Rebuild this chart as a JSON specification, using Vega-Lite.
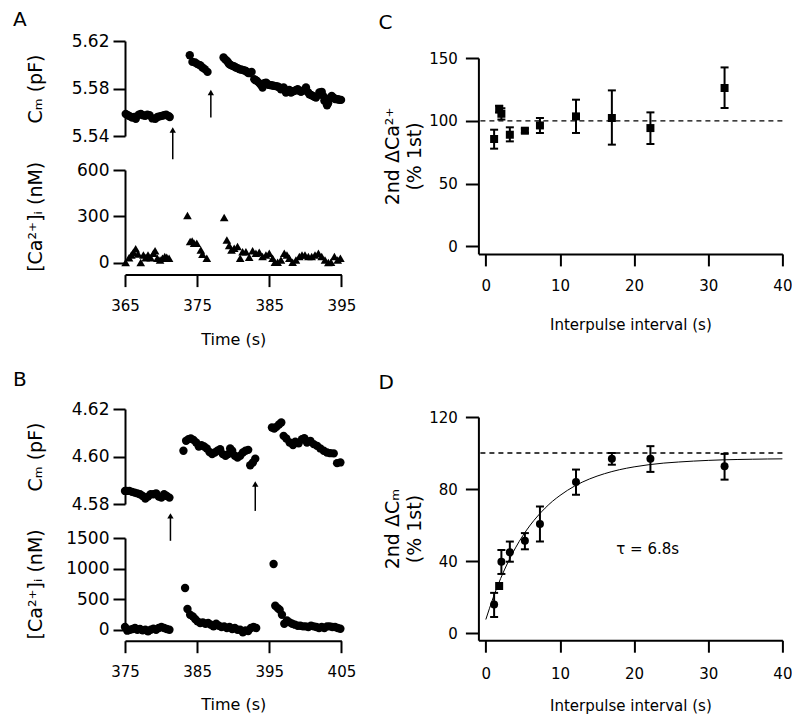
{
  "$schema": "https://vega.github.io/schema/vega-lite/v6.json",
  "background": "white",
  "autosize": {"type": "pad"},
  "padding": {"left": 13, "top": 10, "right": 0, "bottom": 0},
  "bounds": "flush",
  "spacing": 353.4,
  "hconcat": [
    {
      "bounds": "flush",
      "spacing": 34,
      "vconcat": [
        {
          "width": 216.4, "height": 95,
          "title": {"text": "A", "dx": -112, "offset": 2},
          "encoding": {
            "x": {"field": "t", "type": "quantitative", "scale": {"domain": [365, 395], "nice": false, "zero": false}, "axis": null},
            "y": {"field": "v", "type": "quantitative", "scale": {"domain": [5.54, 5.62], "nice": false, "zero": false},
                  "axis": {"values": [5.54, 5.58, 5.62], "format": ".2f", "title": "Cₘ (pF)", "titleX": -84, "titleBaseline": "alphabetic", "titleAngle": -90, "labelPadding": 4, "labelFontSize": 17, "titleFontSize": 19}}
          },
          "layer": [
            {
              "data": {"values": [
                {"t": 365.1, "v": 5.5585}, {"t": 365.4, "v": 5.5575}, {"t": 365.7, "v": 5.5565}, {"t": 366.0, "v": 5.5555},
                {"t": 366.3, "v": 5.556}, {"t": 366.5, "v": 5.5545}, {"t": 366.9, "v": 5.558}, {"t": 367.2, "v": 5.5585},
                {"t": 367.5, "v": 5.5575}, {"t": 367.8, "v": 5.557}, {"t": 368.1, "v": 5.558}, {"t": 368.4, "v": 5.5575},
                {"t": 368.8, "v": 5.5548}, {"t": 369.2, "v": 5.5545}, {"t": 369.5, "v": 5.556}, {"t": 369.8, "v": 5.5565},
                {"t": 370.1, "v": 5.557}, {"t": 370.4, "v": 5.5575}, {"t": 370.7, "v": 5.558}, {"t": 371.0, "v": 5.557},
                {"t": 371.2, "v": 5.556},
                {"t": 373.98, "v": 5.608}, {"t": 374.35, "v": 5.6024}, {"t": 374.72, "v": 5.6019}, {"t": 375.05, "v": 5.6005},
                {"t": 375.42, "v": 5.5996}, {"t": 375.74, "v": 5.5977}, {"t": 376.06, "v": 5.5963}, {"t": 376.44, "v": 5.594},
                {"t": 378.66, "v": 5.6061}, {"t": 378.9, "v": 5.6045}, {"t": 379.12, "v": 5.6033}, {"t": 379.3, "v": 5.602},
                {"t": 379.44, "v": 5.6005}, {"t": 379.65, "v": 5.5998}, {"t": 379.91, "v": 5.5991}, {"t": 380.15, "v": 5.5985},
                {"t": 380.37, "v": 5.5977}, {"t": 380.6, "v": 5.5972}, {"t": 380.83, "v": 5.5963}, {"t": 381.05, "v": 5.596},
                {"t": 381.3, "v": 5.5957}, {"t": 381.55, "v": 5.5952}, {"t": 381.76, "v": 5.5948}, {"t": 382.0, "v": 5.5935},
                {"t": 382.22, "v": 5.5929}, {"t": 382.55, "v": 5.594}, {"t": 382.92, "v": 5.5878}, {"t": 383.1, "v": 5.587},
                {"t": 383.29, "v": 5.5864}, {"t": 383.61, "v": 5.5845}, {"t": 383.85, "v": 5.583}, {"t": 384.07, "v": 5.5808},
                {"t": 384.31, "v": 5.5845}, {"t": 384.55, "v": 5.585}, {"t": 384.77, "v": 5.5836}, {"t": 385.0, "v": 5.583},
                {"t": 385.23, "v": 5.5828}, {"t": 385.45, "v": 5.5825}, {"t": 385.69, "v": 5.5822}, {"t": 385.9, "v": 5.582},
                {"t": 386.16, "v": 5.5817}, {"t": 386.4, "v": 5.5808}, {"t": 386.62, "v": 5.5794}, {"t": 386.99, "v": 5.5808},
                {"t": 387.31, "v": 5.5766}, {"t": 387.55, "v": 5.578}, {"t": 387.78, "v": 5.5788}, {"t": 388.01, "v": 5.5766},
                {"t": 388.24, "v": 5.5775}, {"t": 388.47, "v": 5.578}, {"t": 388.7, "v": 5.5785}, {"t": 388.94, "v": 5.5794},
                {"t": 389.17, "v": 5.578}, {"t": 389.4, "v": 5.5772}, {"t": 389.62, "v": 5.578}, {"t": 389.86, "v": 5.5788},
                {"t": 390.09, "v": 5.5808}, {"t": 390.35, "v": 5.577}, {"t": 390.56, "v": 5.5752}, {"t": 390.8, "v": 5.5745},
                {"t": 391.02, "v": 5.5738}, {"t": 391.25, "v": 5.573}, {"t": 391.48, "v": 5.5724}, {"t": 391.94, "v": 5.5766},
                {"t": 392.27, "v": 5.5772}, {"t": 392.45, "v": 5.574}, {"t": 392.64, "v": 5.5696}, {"t": 393.01, "v": 5.5659},
                {"t": 393.15, "v": 5.5675}, {"t": 393.33, "v": 5.571}, {"t": 393.5, "v": 5.5725}, {"t": 393.66, "v": 5.5738},
                {"t": 393.85, "v": 5.5725}, {"t": 394.03, "v": 5.5716}, {"t": 394.25, "v": 5.571}, {"t": 394.49, "v": 5.571},
                {"t": 394.7, "v": 5.5705}, {"t": 394.95, "v": 5.5704}
              ]},
              "mark": {"type": "circle", "size": 70, "color": "black", "opacity": 1}
            },
            {
              "data": {"values": [{"t": 371.62, "v": 5.5451, "v2": 5.5205}, {"t": 376.9, "v": 5.5766, "v2": 5.5556}]},
              "mark": {"type": "rule", "strokeWidth": 1.5, "color": "black"},
              "encoding": {"y2": {"field": "v2"}}
            },
            {
              "data": {"values": [{"t": 371.62, "v": 5.5451, "v2": 5.5205}, {"t": 376.9, "v": 5.5766, "v2": 5.5556}]},
              "mark": {"type": "point", "shape": "triangle-up", "size": 40, "filled": true, "color": "black", "opacity": 1}
            }
          ]
        },
        {
          "width": 216.4, "height": 92.6,
          "data": {"values": [
            {"t": 365.09, "v": 0}, {"t": 365.56, "v": 32}, {"t": 365.88, "v": 50}, {"t": 366.16, "v": 67}, {"t": 366.48, "v": 89},
            {"t": 366.81, "v": 56}, {"t": 367.18, "v": 0}, {"t": 367.55, "v": 50}, {"t": 367.87, "v": 32}, {"t": 368.19, "v": 50},
            {"t": 368.56, "v": 32}, {"t": 368.94, "v": 60}, {"t": 369.17, "v": 76}, {"t": 369.49, "v": 28}, {"t": 369.86, "v": 17},
            {"t": 370.19, "v": 28}, {"t": 370.51, "v": 39}, {"t": 370.79, "v": 35}, {"t": 371.11, "v": 28},
            {"t": 373.66, "v": 305}, {"t": 374.03, "v": 136}, {"t": 374.31, "v": 140}, {"t": 374.58, "v": 125}, {"t": 374.95, "v": 125},
            {"t": 375.51, "v": 82}, {"t": 375.74, "v": 54}, {"t": 376.34, "v": 28},
            {"t": 378.75, "v": 292}, {"t": 379.12, "v": 147}, {"t": 379.44, "v": 110}, {"t": 379.77, "v": 82}, {"t": 380.14, "v": 93},
            {"t": 380.6, "v": 104}, {"t": 380.97, "v": 28}, {"t": 381.3, "v": 71}, {"t": 381.76, "v": 71}, {"t": 382.22, "v": 35},
            {"t": 382.69, "v": 76}, {"t": 383.15, "v": 60}, {"t": 383.61, "v": 67}, {"t": 384.07, "v": 39}, {"t": 384.54, "v": 50},
            {"t": 385.0, "v": 60}, {"t": 385.46, "v": 28}, {"t": 385.79, "v": 2}, {"t": 386.16, "v": 2}, {"t": 386.62, "v": 17},
            {"t": 387.08, "v": 60}, {"t": 387.45, "v": 50}, {"t": 387.78, "v": 28}, {"t": 388.24, "v": 2}, {"t": 388.7, "v": 17},
            {"t": 389.17, "v": 39}, {"t": 389.54, "v": 50}, {"t": 389.95, "v": 50}, {"t": 390.42, "v": 39}, {"t": 390.88, "v": 39},
            {"t": 391.34, "v": 50}, {"t": 391.81, "v": 60}, {"t": 392.27, "v": 39}, {"t": 392.73, "v": 17}, {"t": 393.19, "v": 0},
            {"t": 393.56, "v": 2}, {"t": 394.03, "v": 39}, {"t": 394.49, "v": 17}, {"t": 394.86, "v": 28}
          ]},
          "mark": {"type": "point", "shape": "triangle-up", "size": 75, "filled": true, "color": "black", "opacity": 1},
          "encoding": {
            "x": {"field": "t", "type": "quantitative", "scale": {"domain": [365, 395], "nice": false, "zero": false},
                  "axis": {"values": [365, 375, 385, 395], "format": "d", "title": "Time (s)", "offset": 12, "labelPadding": 12, "titlePadding": 18, "titleFontSize": 16}},
            "y": {"field": "v", "type": "quantitative", "scale": {"domain": [0, 600], "nice": false, "zero": false},
                  "axis": {"values": [0, 300, 600], "format": "d", "title": "[Ca²⁺]ᵢ (nM)", "titleX": -84, "titleBaseline": "alphabetic", "titleAngle": -90, "labelPadding": 4, "labelFontSize": 17, "titleFontSize": 19}}
          }
        },
        {
          "width": 216.4, "height": 77.7,
          "data": {"values": []},
          "mark": {"type": "point", "opacity": 0}
        },
        {
          "width": 216.4, "height": 95,
          "title": {"text": "B", "dx": -112, "offset": 10},
          "encoding": {
            "x": {"field": "t", "type": "quantitative", "scale": {"domain": [375, 405], "nice": false, "zero": false}, "axis": null},
            "y": {"field": "v", "type": "quantitative", "scale": {"domain": [4.58, 4.62], "nice": false, "zero": false},
                  "axis": {"values": [4.58, 4.6, 4.62], "format": ".2f", "title": "Cₘ (pF)", "titleX": -84, "titleBaseline": "alphabetic", "titleAngle": -90, "labelPadding": 4, "labelFontSize": 17, "titleFontSize": 19}}
          },
          "layer": [
            {
              "data": {"values": [
                {"t": 375.0, "v": 4.5855}, {"t": 375.23, "v": 4.5855}, {"t": 375.6, "v": 4.5855}, {"t": 375.97, "v": 4.5851},
                {"t": 376.34, "v": 4.5848}, {"t": 376.71, "v": 4.5845}, {"t": 377.08, "v": 4.5841}, {"t": 377.45, "v": 4.5834},
                {"t": 377.82, "v": 4.5823}, {"t": 378.19, "v": 4.5831}, {"t": 378.56, "v": 4.5841}, {"t": 378.94, "v": 4.5841},
                {"t": 379.31, "v": 4.5845}, {"t": 379.68, "v": 4.5831}, {"t": 380.05, "v": 4.5827}, {"t": 380.42, "v": 4.5841},
                {"t": 380.79, "v": 4.5834}, {"t": 381.16, "v": 4.5827},
                {"t": 383.1, "v": 4.6024}, {"t": 383.47, "v": 4.6066}, {"t": 383.8, "v": 4.6073}, {"t": 384.12, "v": 4.6076},
                {"t": 384.49, "v": 4.607}, {"t": 384.86, "v": 4.6059}, {"t": 385.23, "v": 4.6042}, {"t": 385.6, "v": 4.6048},
                {"t": 385.97, "v": 4.6042}, {"t": 386.34, "v": 4.6034}, {"t": 386.71, "v": 4.6019}, {"t": 387.08, "v": 4.601},
                {"t": 387.45, "v": 4.6017}, {"t": 387.82, "v": 4.6024}, {"t": 388.19, "v": 4.6031}, {"t": 388.56, "v": 4.601},
                {"t": 388.94, "v": 4.6003}, {"t": 389.31, "v": 4.601}, {"t": 389.58, "v": 4.6034}, {"t": 389.86, "v": 4.6024},
                {"t": 390.23, "v": 4.6003}, {"t": 390.6, "v": 4.5996}, {"t": 390.97, "v": 4.6003}, {"t": 391.34, "v": 4.6017},
                {"t": 391.71, "v": 4.6024}, {"t": 392.08, "v": 4.6028}, {"t": 392.36, "v": 4.5963}, {"t": 392.73, "v": 4.5975},
                {"t": 393.06, "v": 4.5991},
                {"t": 395.37, "v": 4.6122}, {"t": 395.69, "v": 4.6118}, {"t": 396.0, "v": 4.6125}, {"t": 396.35, "v": 4.6135},
                {"t": 396.67, "v": 4.6143}, {"t": 396.99, "v": 4.6087}, {"t": 397.36, "v": 4.6076}, {"t": 397.82, "v": 4.6059},
                {"t": 398.29, "v": 4.6048}, {"t": 398.61, "v": 4.6062}, {"t": 399.07, "v": 4.6056}, {"t": 399.54, "v": 4.6073},
                {"t": 399.86, "v": 4.6077}, {"t": 400.23, "v": 4.6059}, {"t": 400.69, "v": 4.6066}, {"t": 401.16, "v": 4.6052},
                {"t": 401.62, "v": 4.6045}, {"t": 402.08, "v": 4.6034}, {"t": 402.55, "v": 4.6024}, {"t": 403.01, "v": 4.6017},
                {"t": 403.47, "v": 4.6014}, {"t": 403.94, "v": 4.6013}, {"t": 404.4, "v": 4.5972}, {"t": 404.86, "v": 4.5975}
              ]},
              "mark": {"type": "circle", "size": 70, "color": "black", "opacity": 1}
            },
            {
              "data": {"values": [{"t": 381.3, "v": 4.575, "v2": 4.5645}, {"t": 393.06, "v": 4.5884, "v2": 4.5771}]},
              "mark": {"type": "rule", "strokeWidth": 1.5, "color": "black"},
              "encoding": {"y2": {"field": "v2"}}
            },
            {
              "data": {"values": [{"t": 381.3, "v": 4.575, "v2": 4.5645}, {"t": 393.06, "v": 4.5884, "v2": 4.5771}]},
              "mark": {"type": "point", "shape": "triangle-up", "size": 40, "filled": true, "color": "black", "opacity": 1}
            }
          ]
        },
        {
          "width": 216.4, "height": 91.7,
          "data": {"values": [
            {"t": 375.0, "v": 44}, {"t": 375.32, "v": -16}, {"t": 375.69, "v": 0}, {"t": 376.06, "v": 11}, {"t": 376.39, "v": 27},
            {"t": 376.71, "v": 0}, {"t": 377.08, "v": 11}, {"t": 377.45, "v": -11}, {"t": 377.82, "v": 0}, {"t": 378.19, "v": -27},
            {"t": 378.56, "v": 0}, {"t": 378.94, "v": 16}, {"t": 379.31, "v": 0}, {"t": 379.68, "v": 27}, {"t": 380.05, "v": 44},
            {"t": 380.42, "v": 27}, {"t": 380.79, "v": 11}, {"t": 381.16, "v": 0},
            {"t": 383.33, "v": 682}, {"t": 383.66, "v": 338}, {"t": 384.03, "v": 245}, {"t": 384.4, "v": 218}, {"t": 384.72, "v": 175},
            {"t": 385.05, "v": 136}, {"t": 385.42, "v": 109}, {"t": 385.79, "v": 120}, {"t": 386.16, "v": 98}, {"t": 386.53, "v": 109},
            {"t": 386.9, "v": 82}, {"t": 387.27, "v": 55}, {"t": 387.64, "v": 98}, {"t": 388.01, "v": 65}, {"t": 388.38, "v": 44},
            {"t": 388.75, "v": 55}, {"t": 389.12, "v": 27}, {"t": 389.49, "v": 44}, {"t": 389.86, "v": 11}, {"t": 390.23, "v": 27},
            {"t": 390.6, "v": 0}, {"t": 390.97, "v": 0}, {"t": 391.34, "v": -44}, {"t": 391.71, "v": -11}, {"t": 392.08, "v": -22},
            {"t": 392.45, "v": 27}, {"t": 392.82, "v": 44}, {"t": 393.19, "v": 27},
            {"t": 395.6, "v": 1074}, {"t": 395.83, "v": 393}, {"t": 396.16, "v": 354}, {"t": 396.44, "v": 327}, {"t": 396.76, "v": 245},
            {"t": 397.08, "v": 98}, {"t": 397.45, "v": 153}, {"t": 397.82, "v": 120}, {"t": 398.19, "v": 98}, {"t": 398.56, "v": 82},
            {"t": 398.94, "v": 65}, {"t": 399.31, "v": 65}, {"t": 399.68, "v": 55}, {"t": 400.05, "v": 55}, {"t": 400.42, "v": 44},
            {"t": 400.79, "v": 65}, {"t": 401.16, "v": 55}, {"t": 401.53, "v": 44}, {"t": 401.9, "v": 27}, {"t": 402.27, "v": 44},
            {"t": 402.64, "v": 27}, {"t": 403.01, "v": 55}, {"t": 403.38, "v": 55}, {"t": 403.75, "v": 44}, {"t": 404.12, "v": 44},
            {"t": 404.49, "v": 27}, {"t": 404.86, "v": 16}
          ]},
          "mark": {"type": "circle", "size": 70, "color": "black", "opacity": 1},
          "encoding": {
            "x": {"field": "t", "type": "quantitative", "scale": {"domain": [375, 405], "nice": false, "zero": false},
                  "axis": {"values": [375, 385, 395, 405], "format": "d", "title": "Time (s)", "offset": 11, "labelPadding": 12, "titlePadding": 17, "titleFontSize": 16}},
            "y": {"field": "v", "type": "quantitative", "scale": {"domain": [0, 1500], "nice": false, "zero": false},
                  "axis": {"values": [0, 500, 1000, 1500], "format": "d", "title": "[Ca²⁺]ᵢ (nM)", "titleX": -84, "titleBaseline": "alphabetic", "titleAngle": -90, "labelPadding": 4, "labelFontSize": 17, "titleFontSize": 19}}
          }
        }
      ]
    },
    {
      "bounds": "flush",
      "spacing": 8,
      "vconcat": [
        {
          "width": 304, "height": 8.6,
          "data": {"values": []},
          "mark": {"type": "point", "opacity": 0}
        },
        {
          "width": 304, "height": 195.9,
          "title": {"text": "C", "dx": -100, "offset": 18},
          "data": {"values": [
            {"x": 1.12, "y": 85.5, "lo": 77.8, "hi": 92.9},
            {"x": 1.8, "y": 109.4, "lo": 106.5, "hi": 112},
            {"x": 2.1, "y": 105.6, "lo": 101, "hi": 110},
            {"x": 3.24, "y": 88.9, "lo": 83.6, "hi": 94.8},
            {"x": 5.27, "y": 92.1, "lo": 90.5, "hi": 93.7},
            {"x": 7.3, "y": 96.3, "lo": 90.3, "hi": 102.2},
            {"x": 12.16, "y": 103.5, "lo": 90.3, "hi": 116.8},
            {"x": 17.0, "y": 102.2, "lo": 81, "hi": 124.2},
            {"x": 22.2, "y": 94.2, "lo": 81.5, "hi": 106.7},
            {"x": 32.2, "y": 126.1, "lo": 110.2, "hi": 142.5}
          ]},
          "layer": [
            {
              "data": {"values": [{"ref": 100}]},
              "mark": {"type": "rule", "strokeDash": [5, 4], "strokeWidth": 1.3, "color": "black"},
              "encoding": {
                "y": {"field": "ref", "type": "quantitative", "scale": {"domain": [-6, 150], "nice": false, "zero": false},
                      "axis": {"values": [0, 50, 100, 150], "title": ["2nd  ΔCa²⁺", "(% 1st)"], "titleX": -79.7, "titleBaseline": "alphabetic", "titleAngle": -90, "titleLineHeight": 22, "titleFontSize": 19, "labelPadding": 8, "tickSize": 13}}
              }
            },
            {
              "mark": {"type": "rule", "strokeWidth": 2, "color": "black"},
              "encoding": {
                "x": {"field": "x", "type": "quantitative", "scale": {"domain": [-1, 40], "nice": false, "zero": false},
                      "axis": {"values": [0, 10, 20, 30, 40], "title": "Interpulse interval (s)", "labelPadding": 13, "titlePadding": 24, "tickSize": 12}},
                "y": {"field": "lo", "type": "quantitative", "scale": {"domain": [-6, 150], "nice": false, "zero": false},
                      "axis": {"values": [0, 50, 100, 150], "title": ["2nd  ΔCa²⁺", "(% 1st)"], "titleX": -79.7, "titleBaseline": "alphabetic", "titleAngle": -90, "titleLineHeight": 22, "titleFontSize": 19, "labelPadding": 8, "tickSize": 13}},
                "y2": {"field": "hi"}
              }
            },
            {
              "mark": {"type": "tick", "orient": "horizontal", "size": 8, "thickness": 2, "color": "black", "opacity": 1},
              "encoding": {
                "x": {"field": "x", "type": "quantitative"},
                "y": {"field": "lo", "type": "quantitative"}
              }
            },
            {
              "mark": {"type": "tick", "orient": "horizontal", "size": 8, "thickness": 2, "color": "black", "opacity": 1},
              "encoding": {
                "x": {"field": "x", "type": "quantitative"},
                "y": {"field": "hi", "type": "quantitative"}
              }
            },
            {
              "mark": {"type": "point", "shape": "square", "size": 64, "filled": true, "color": "black", "opacity": 1},
              "encoding": {
                "x": {"field": "x", "type": "quantitative"},
                "y": {"field": "y", "type": "quantitative"}
              }
            }
          ]
        },
        {
          "width": 304, "height": 146.5,
          "data": {"values": []},
          "mark": {"type": "point", "opacity": 0}
        },
        {
          "width": 304, "height": 223.2,
          "title": {"text": "D", "dx": -100, "offset": 17},
          "data": {"values": [
            {"x": 1.12, "y": 15.8, "lo": 8.9, "hi": 22.3},
            {"x": 2.1, "y": 39.6, "lo": 32.8, "hi": 46.1},
            {"x": 3.24, "y": 44.9, "lo": 39.6, "hi": 50.8},
            {"x": 5.27, "y": 51.2, "lo": 46.5, "hi": 55.5},
            {"x": 7.3, "y": 60.5, "lo": 50.8, "hi": 70.3},
            {"x": 12.16, "y": 83.9, "lo": 76.8, "hi": 90.8},
            {"x": 17.0, "y": 96.8, "lo": 93.5, "hi": 100},
            {"x": 22.2, "y": 96.8, "lo": 89.5, "hi": 103.8},
            {"x": 32.2, "y": 92.6, "lo": 85.2, "hi": 99.5}
          ]},
          "layer": [
            {
              "data": {"values": [{"ref": 100}]},
              "mark": {"type": "rule", "strokeDash": [5, 4], "strokeWidth": 1.3, "color": "black"},
              "encoding": {
                "y": {"field": "ref", "type": "quantitative", "scale": {"domain": [-4, 120], "nice": false, "zero": false},
                      "axis": {"values": [0, 20, 40, 60, 80, 100, 120], "labelExpr": "datum.value % 40 === 0 ? datum.label : ''", "title": ["2nd  ΔCₘ", "(% 1st)"], "titleX": -79.7, "titleBaseline": "alphabetic", "titleAngle": -90, "titleLineHeight": 22, "titleFontSize": 19, "labelPadding": 8, "tickSize": 13}}
              }
            },
            {
              "data": {"values": [
                {"x": 0, "y": 7.5}, {"x": 1, "y": 19.7}, {"x": 2, "y": 30.3}, {"x": 3, "y": 39.4}, {"x": 4, "y": 47.3},
                {"x": 5, "y": 54.1}, {"x": 6, "y": 60.0}, {"x": 7, "y": 65.0}, {"x": 8, "y": 69.4}, {"x": 9, "y": 73.2},
                {"x": 10, "y": 76.4}, {"x": 12, "y": 81.7}, {"x": 14, "y": 85.6}, {"x": 16, "y": 88.5}, {"x": 18, "y": 90.7},
                {"x": 20, "y": 92.3}, {"x": 22, "y": 93.5}, {"x": 24, "y": 94.4}, {"x": 26, "y": 95.0}, {"x": 28, "y": 95.5},
                {"x": 30, "y": 95.9}, {"x": 32, "y": 96.2}, {"x": 34, "y": 96.4}, {"x": 36, "y": 96.55}, {"x": 38, "y": 96.67},
                {"x": 40, "y": 96.75}
              ]},
              "mark": {"type": "line", "strokeWidth": 1, "color": "black", "interpolate": "monotone"},
              "encoding": {
                "x": {"field": "x", "type": "quantitative", "scale": {"domain": [-1, 40], "nice": false, "zero": false},
                      "axis": {"values": [0, 10, 20, 30, 40], "title": "Interpulse interval (s)", "labelPadding": 14, "titlePadding": 17, "tickSize": 12}},
                "y": {"field": "y", "type": "quantitative"}
              }
            },
            {
              "mark": {"type": "rule", "strokeWidth": 2, "color": "black"},
              "encoding": {
                "x": {"field": "x", "type": "quantitative"},
                "y": {"field": "lo", "type": "quantitative"},
                "y2": {"field": "hi"}
              }
            },
            {
              "mark": {"type": "tick", "orient": "horizontal", "size": 8, "thickness": 2, "color": "black", "opacity": 1},
              "encoding": {
                "x": {"field": "x", "type": "quantitative"},
                "y": {"field": "lo", "type": "quantitative"}
              }
            },
            {
              "mark": {"type": "tick", "orient": "horizontal", "size": 8, "thickness": 2, "color": "black", "opacity": 1},
              "encoding": {
                "x": {"field": "x", "type": "quantitative"},
                "y": {"field": "hi", "type": "quantitative"}
              }
            },
            {
              "mark": {"type": "circle", "size": 64, "color": "black", "opacity": 1},
              "encoding": {
                "x": {"field": "x", "type": "quantitative"},
                "y": {"field": "y", "type": "quantitative"}
              }
            },
            {
              "data": {"values": [{"x": 1.8, "y": 26.1}]},
              "mark": {"type": "point", "shape": "square", "size": 64, "filled": true, "color": "black", "opacity": 1},
              "encoding": {
                "x": {"field": "x", "type": "quantitative"},
                "y": {"field": "y", "type": "quantitative"}
              }
            },
            {
              "data": {"values": [{"x": 17.6, "y": 46.7, "label": "τ = 6.8s"}]},
              "mark": {"type": "text", "align": "left", "baseline": "middle", "fontSize": 15, "color": "black", "font": "DejaVu Sans"},
              "encoding": {
                "x": {"field": "x", "type": "quantitative"},
                "y": {"field": "y", "type": "quantitative"},
                "text": {"field": "label"}
              }
            }
          ]
        }
      ]
    }
  ],
  "config": {
    "view": {"stroke": null},
    "font": "DejaVu Sans",
    "axis": {"domainColor": "black", "domainWidth": 2, "tickColor": "black", "tickWidth": 2, "tickSize": 12,
             "labelFont": "DejaVu Sans", "labelFontSize": 15, "labelColor": "black",
             "titleFont": "DejaVu Sans", "titleFontSize": 15, "titleFontWeight": "normal", "titleColor": "black",
             "grid": false, "labelFlush": false, "labelOverlap": false},
    "title": {"font": "DejaVu Sans", "fontSize": 20, "fontWeight": "normal", "anchor": "start", "frame": "group", "color": "black"}
  }
}
